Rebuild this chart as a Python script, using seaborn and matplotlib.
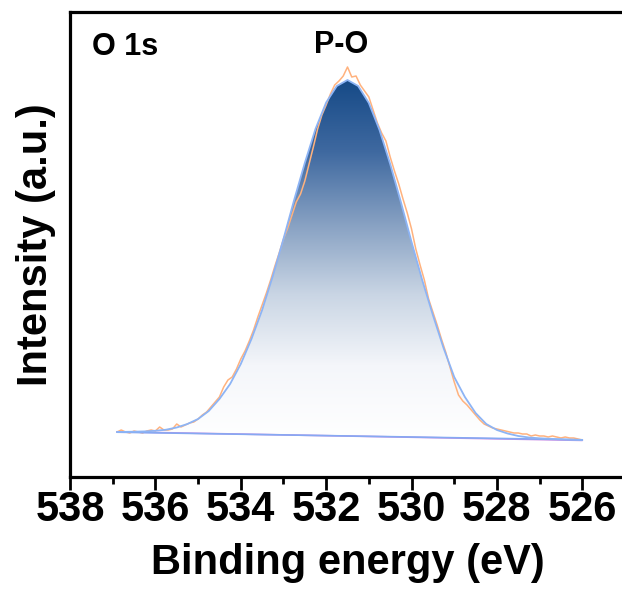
import numpy as np
import pandas as pd
import seaborn as sns
import matplotlib.pyplot as plt
from matplotlib.colors import LinearSegmentedColormap

# raw O 1s scan
raw_be = [536.9, 536.8, 536.7, 536.6, 536.5, 536.4, 536.3, 536.2, 536.1, 536.0,
          535.9, 535.8, 535.7, 535.6, 535.5, 535.4, 535.3, 535.2, 535.1, 535.0,
          534.9, 534.8, 534.7, 534.6, 534.5, 534.4, 534.3, 534.2, 534.1, 534.0,
          533.9, 533.8, 533.7, 533.6, 533.5, 533.4, 533.3, 533.2, 533.1, 533.0,
          532.9, 532.8, 532.7, 532.6, 532.5, 532.4, 532.3, 532.2, 532.1, 532.0,
          531.9, 531.8, 531.7, 531.6, 531.5, 531.4, 531.3, 531.2, 531.1, 531.0,
          530.9, 530.8, 530.7, 530.6, 530.5, 530.4, 530.3, 530.2, 530.1, 530.0,
          529.9, 529.8, 529.7, 529.6, 529.5, 529.4, 529.3, 529.2, 529.1, 529.0,
          528.9, 528.8, 528.7, 528.6, 528.5, 528.4, 528.3, 528.2, 528.1, 528.0,
          527.9, 527.8, 527.7, 527.6, 527.5, 527.4, 527.3, 527.2, 527.1, 527.0,
          526.9, 526.8, 526.7, 526.6, 526.5, 526.4, 526.3, 526.2, 526.1, 526.0]
raw_int = [45, 47, 45, 44, 46, 45, 44, 46, 47, 46,
           50, 47, 47, 48, 53, 50, 52, 54, 55, 58,
           62, 65, 70, 75, 80, 90, 97, 100, 108, 118,
           126, 136, 147, 160, 172, 184, 197, 211, 224, 238,
           249, 262, 275, 283, 296, 313, 330, 348, 362, 372,
           383, 392, 396, 401, 410, 400, 401, 392, 386, 380,
           367, 354, 344, 336, 320, 306, 293, 278, 264, 248,
           228, 212, 197, 178, 165, 152, 138, 125, 110, 95,
           82, 76, 72, 67, 62, 57, 53, 51, 49, 48,
           47, 46, 45, 44, 44, 43, 43, 41, 42, 41,
           41, 40, 41, 40, 39, 40, 39, 39, 38, 37]

# fitted P-O envelope
fit_be = [536.9, 536.75, 536.5, 536.25, 536.0, 535.75, 535.5, 535.25, 535.0,
          534.75, 534.5, 534.25, 534.0, 533.75, 533.5, 533.25, 533.0, 532.75,
          532.5, 532.25, 532.0, 531.75, 531.5, 531.25, 531.0, 530.75, 530.5,
          530.25, 530.0, 529.75, 529.5, 529.25, 529.0, 528.75, 528.5, 528.25,
          528.0, 527.75, 527.5, 527.25, 527.0, 526.75, 526.5, 526.25, 526.0]
fit_int = [45.0, 45.1, 45.3, 45.6, 46.2, 47.3, 49.5, 53, 58,
           66, 78, 93, 113, 138, 167, 201, 238, 277,
           314, 348, 374.5, 391, 397, 391, 374, 347, 313,
           275, 235, 197, 162, 129, 100, 80, 64, 53,
           47, 43.5, 41, 39.5, 38.7, 38.2, 37.7, 37.3, 37.0]

# backgrounds
bg_be = [536.9, 526.0]
bg1_int = [45.2, 36.6]
bg2_int = [44.8, 37.2]

xticks = [538, 536, 534, 532, 530, 528, 526]

raw = pd.DataFrame({"be": raw_be, "I": raw_int})
fit = pd.DataFrame({"be": fit_be, "I": fit_int})

sns.set_style("ticks")
plt.rcParams["font.family"] = ["Liberation Sans", "DejaVu Sans"]
plt.rcParams["text.color"] = "black"
plt.rcParams["axes.labelcolor"] = "black"
plt.rcParams["xtick.color"] = "black"
plt.rcParams["ytick.color"] = "black"

fig = plt.figure(figsize=(6.22, 5.93), dpi=100)
ax = fig.add_axes([70 / 622, 1 - 477 / 593, 555 / 622, 465 / 593])

# gradient fill under the fitted peak
bg_fit = np.interp(fit_be[::-1], bg_be[::-1], bg1_int[::-1])[::-1]
poly = ax.fill_between(fit_be, bg_fit, fit_int, color="none", lw=0)
cmap = LinearSegmentedColormap.from_list(
    "blu", ["#ffffff", "#f4f6fa", "#c9d5e4", "#86a0c2", "#3f69a0", "#164a87"])
grad = np.linspace(0, 1, 256).reshape(-1, 1)
im = ax.imshow(grad, extent=[538, 525, 40, 397], origin="lower", aspect="auto",
               cmap=cmap, zorder=1)
im.set_clip_path(poly.get_paths()[0], transform=ax.transData)

sns.lineplot(data=raw, x="be", y="I", color="#ffb27e", lw=1.1, ax=ax, zorder=3)
sns.lineplot(data=fit, x="be", y="I", color="#8db4f5", lw=1.3, ax=ax, zorder=4)
sns.lineplot(x=bg_be, y=bg1_int, color="#c98de6", lw=1.2, ax=ax, zorder=3)
sns.lineplot(x=bg_be, y=bg2_int, color="#86a9f2", lw=1.2, ax=ax, zorder=3)

ax.set_xlim(538, 525)
ax.set_ylim(0, 465)
ax.set_xticks(xticks)
ax.set_xticks([537, 535, 533, 531, 529, 527], minor=True)
ax.set_yticks([])
ax.tick_params(axis="x", which="major", length=9, width=2, direction="out", pad=0.5,
               labelsize=30)
ax.tick_params(axis="x", which="minor", length=5, width=2, direction="out")
for lab in ax.get_xticklabels():
    lab.set_fontweight("bold")
for sp in ax.spines.values():
    sp.set_linewidth(2.3)
    sp.set_color("black")

ax.set_xlabel("Binding energy (eV)", fontsize=30, fontweight="bold", labelpad=9)
ax.set_ylabel("Intensity (a.u.)", fontsize=30, fontweight="bold", labelpad=10)

ax.text(0.04, 0.925, "O 1s", transform=ax.transAxes, fontsize=22, fontweight="bold",
        va="center", ha="left")
ax.text(531.65, 432, "P-O", fontsize=22, fontweight="bold", va="center", ha="center")

fig.savefig("out.png", dpi=100)
